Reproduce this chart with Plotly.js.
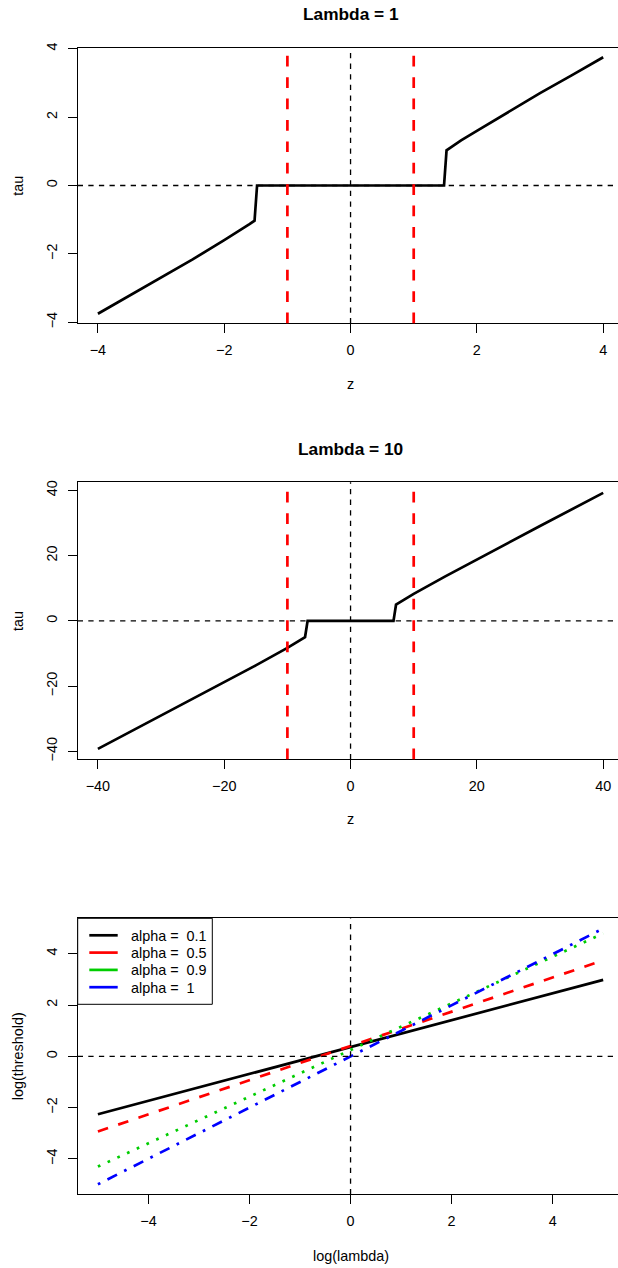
<!DOCTYPE html>
<html><head><meta charset="utf-8">
<script src="https://cdn.plot.ly/plotly-3.0.1.min.js"></script>
<style>html,body{margin:0;padding:0;overflow:hidden;background:#fff}</style>
</head><body><div id="chart"></div>
<script>
// ---- Panel 1: Lambda = 1 ----
const z1   = [-4, -3.5, -3, -2.5, -2, -1.75, -1.6, -1.52, -1.48, 1.48, 1.52, 1.6, 1.75, 2, 2.5, 3, 3.5, 4];
const tau1 = [-3.75, -3.22, -2.70, -2.16, -1.60, -1.32, -1.13, -1.03, 0, 0, 1.03, 1.13, 1.32, 1.60, 2.16, 2.70, 3.22, 3.75];
const thresh1 = [-1, 1];
const z1Ticks = [-4, -2, 0, 2, 4];
const tau1Ticks = [-4, -2, 0, 2, 4];

// ---- Panel 2: Lambda = 10 ----
const z2   = [-40, -30, -20, -15, -10, -8, -7.2, -6.8, 6.8, 7.2, 8, 10, 15, 20, 30, 40];
const tau2 = [-39.2, -29.07, -18.85, -13.64, -8.26, -5.95, -4.96, 0, 0, 4.96, 5.95, 8.26, 13.64, 18.85, 29.07, 39.2];
const thresh2 = [-10, 10];
const z2Ticks = [-40, -20, 0, 20, 40];
const tau2Ticks = [-40, -20, 0, 20, 40];

// ---- Panel 3: log(threshold) vs log(lambda) ----
const logLambda = [-5, 0, 5];
const logThrA01 = [-2.26, 0.36, 2.98];
const logThrA05 = [-2.93, 0.40, 3.74];
const logThrA09 = [-4.30, 0.24, 4.79];
const logThrA1  = [-4.99, 0.00, 4.98];
const alphaNames = ['alpha = \u00a00.1', 'alpha = \u00a00.5', 'alpha = \u00a00.9', 'alpha = \u00a01'];
const llTicks = [-4, -2, 0, 2, 4];
const ltTicks = [-4, -2, 0, 2, 4];

// ---- layout helpers (pixel geometry -> paper) ----
const W = 640, H = 1268;
const FONT = '"Liberation Sans", Arial, Helvetica, sans-serif';
const FS = 14.4;
const px = v => v / W;
const py = v => 1 - v / H;
const xDom = [px(77.7), px(623.4)];

function xa(range, ticks, anchor) {
  return {
    domain: xDom, range: range, tickvals: ticks, anchor: anchor,
    showgrid: false, zeroline: false, showline: true, mirror: true,
    linecolor: '#000', linewidth: 1, ticks: 'outside', ticklen: 9, tickwidth: 1, tickcolor: '#000',
    tickfont: {family: FONT, size: FS, color: '#000'}, ticklabelstandoff: 4, fixedrange: true
  };
}
function ya(range, ticks, top, bottom, anchor) {
  return {
    domain: [py(bottom), py(top)], range: range, tickvals: ticks, anchor: anchor,
    showgrid: false, zeroline: false, showline: true, mirror: true,
    linecolor: '#000', linewidth: 1, ticks: 'outside', ticklen: 9, tickwidth: 1, tickcolor: '#000',
    tickangle: -90, tickfont: {family: FONT, size: FS, color: '#000'}, ticklabelstandoff: 5, fixedrange: true
  };
}

const seriesY = [logThrA01, logThrA05, logThrA09, logThrA1];
const seriesColors = ['#000000', '#FF0000', '#00CD00', '#0000FF'];
const seriesDash = ['solid', '10.7px,10.7px', '2.7px,8px', '2.7px,8px,10.7px,8px'];

const traces = [
  {x: z1, y: tau1, xaxis: 'x', yaxis: 'y', mode: 'lines', line: {color: '#000', width: 2.7}, showlegend: false},
  {x: z2, y: tau2, xaxis: 'x2', yaxis: 'y2', mode: 'lines', line: {color: '#000', width: 2.7}, showlegend: false}
];
seriesY.forEach((ys, i) => traces.push({
  x: logLambda, y: ys, xaxis: 'x3', yaxis: 'y3', mode: 'lines', name: alphaNames[i],
  line: {color: seriesColors[i], width: 2.7, dash: seriesDash[i]}, showlegend: false
}));

const blackDash = {color: '#000', width: 1.3, dash: '5.3px,5.3px'};
const redDash = {color: '#FF0000', width: 2.7, dash: '10.7px,10.7px'};
function vline(xr, yr, v, line) { return {type: 'line', xref: xr, yref: yr + ' domain', x0: v, x1: v, y0: 0, y1: 1, line: line, layer: 'above'}; }
function hline(xr, yr, v, line) { return {type: 'line', xref: xr + ' domain', yref: yr, x0: 0, x1: 1, y0: v, y1: v, line: line, layer: 'above'}; }

const shapes = [
  hline('x', 'y', 0, blackDash), vline('x', 'y', 0, blackDash),
  ...thresh1.map(t => vline('x', 'y', t, redDash)),
  hline('x2', 'y2', 0, blackDash), vline('x2', 'y2', 0, blackDash),
  ...thresh2.map(t => vline('x2', 'y2', t, redDash)),
  hline('x3', 'y3', 0, blackDash), vline('x3', 'y3', 0, blackDash)
];

function ann(text, x, y, opts) {
  return Object.assign({text: text, xref: 'paper', yref: 'paper', x: px(x), y: py(y), xanchor: 'center', yanchor: 'middle',
    showarrow: false, font: {family: FONT, size: FS, color: '#000'}}, opts || {});
}
const cx = 350.5;
const annotations = [
  ann('<b>Lambda = 1</b>', cx, 13.5, {font: {family: FONT, size: 17.3, color: '#000'}}),
  ann('z', cx, 384),
  ann('tau', 18, 185.7, {textangle: -90}),
  ann('<b>Lambda = 10</b>', cx, 448.5, {font: {family: FONT, size: 17.3, color: '#000'}}),
  ann('z', cx, 819),
  ann('tau', 18, 621, {textangle: -90}),
  ann('log(lambda)', cx, 1255.5),
  ann('log(threshold)', 18, 1056.3, {textangle: -90})
];

// ---- legend box (R-style, top-left of panel 3) ----
const LG = {left: 77.7, right: 212.3, top: 918.3, bottom: 1004.3, row0: 935.3, rowStep: 17.3, lineL: 89.3, lineR: 117.7, textL: 129.3};
shapes.push({type: 'rect', xref: 'paper', yref: 'paper', x0: px(LG.left), x1: px(LG.right), y0: py(LG.bottom), y1: py(LG.top),
  line: {color: '#000', width: 1}, fillcolor: '#fff', layer: 'above'});
alphaNames.forEach((n, i) => {
  const ry = LG.row0 + i * LG.rowStep;
  shapes.push({type: 'line', xref: 'paper', yref: 'paper', x0: px(LG.lineL), x1: px(LG.lineR), y0: py(ry), y1: py(ry),
    line: {color: seriesColors[i], width: 2.7}, layer: 'above'});
  annotations.push(ann(n, LG.textL, ry + 0.5, {xanchor: 'left'}));
});

const layout = {
  width: W, height: H, margin: {l: 0, r: 0, t: 0, b: 0},
  paper_bgcolor: '#fff', plot_bgcolor: '#fff',
  font: {family: FONT, size: FS, color: '#000'},
  xaxis:  xa([-4.32, 4.32], z1Ticks, 'y'),
  yaxis:  ya([-4.03, 4.03], tau1Ticks, 47.7, 323.3, 'x'),
  xaxis2: xa([-43.2, 43.2], z2Ticks, 'y2'),
  yaxis2: ya([-42.4, 42.45], tau2Ticks, 482.3, 759.3, 'x2'),
  xaxis3: xa([-5.4, 5.4], llTicks, 'y3'),
  yaxis3: ya([-5.38, 5.38], ltTicks, 918.3, 1194.3, 'x3'),
  shapes: shapes, annotations: annotations,
  showlegend: false
};

Plotly.newPlot('chart', traces, layout, {staticPlot: true, displayModeBar: false});
</script></body></html>
